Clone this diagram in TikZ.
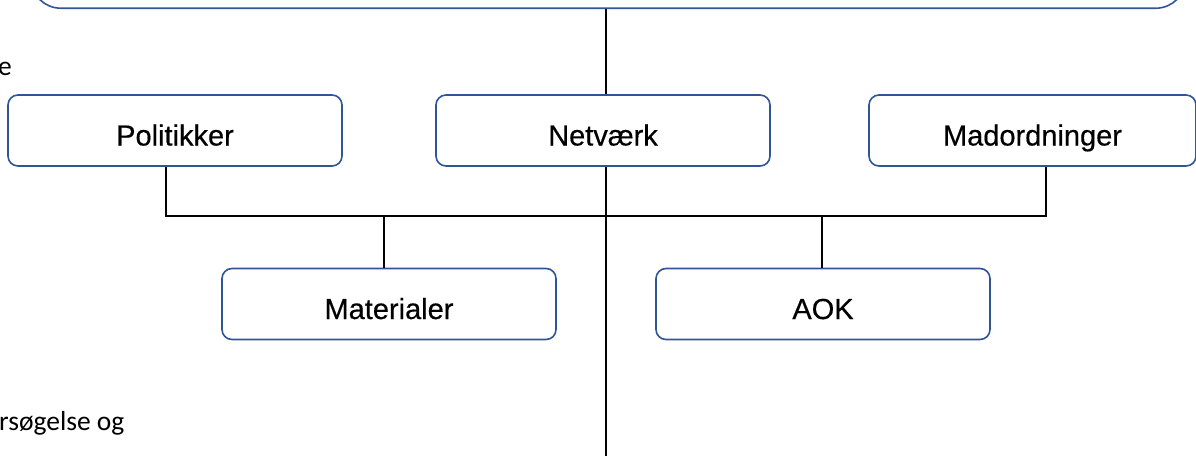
\documentclass[tikz,border=0pt]{standalone}
\usepackage{fontspec}
\setmainfont{Liberation Sans}
\newfontfamily\boxfont[FakeBold=0.4]{Liberation Sans}
\newfontfamily\bodyfont{Carlito}
\definecolor{boxblue}{HTML}{2F5597}
\begin{document}
\begin{tikzpicture}[x=1pt,y=-1pt,
  orgbox/.style={draw=boxblue,line width=1.6pt,rounded corners=10pt,fill=white,
    minimum width=334pt,minimum height=71pt,inner sep=0pt,text height=30pt,text depth=0pt,
    font=\boxfont\fontsize{29}{34}\selectfont},
  conn/.style={draw=black,line width=1.9pt},
  sidetext/.style={inner sep=0pt,font=\bodyfont\fontsize{27.5}{33}\selectfont}]
\useasboundingbox (0,0) rectangle (1196,456);
\node[draw=boxblue,line width=1.6pt,rounded corners=30pt,minimum width=1155pt,minimum height=80pt,anchor=south west,inner sep=0pt] (top) at (30,9) {};
\node[orgbox] (pol) at (175,130.5) {Politikker};
\node[orgbox] (net) at (603,130.5) {Netværk};
\node[orgbox,minimum width=327pt] (mad) at (1032.5,130.5) {Madordninger};
\node[orgbox] (mat) at (389,304) {Materialer};
\node[orgbox] (aok) at (823,304) {AOK};
\node[sidetext,anchor=base west] (e) at (-2,75) {e};
\node[sidetext,anchor=base west] (rs) at (-1,430) {rsøgelse og};
\coordinate (bl) at (166,216);
\coordinate (br) at (1046,216);
\coordinate (bm) at (606,216);
\coordinate (bot) at (606,456);
\draw[conn] (top.south -| bm) -- (net.north -| bm);
\draw[conn] (net.south -| bm) -- (bot);
\draw[conn] (pol.south -| bl) -- (bl) -- (br) -- (mad.south -| br);
\draw[conn] (384,216) -- (mat.north -| 384,0);
\draw[conn] (822,216) -- (aok.north -| 822,0);
\end{tikzpicture}
\end{document}
